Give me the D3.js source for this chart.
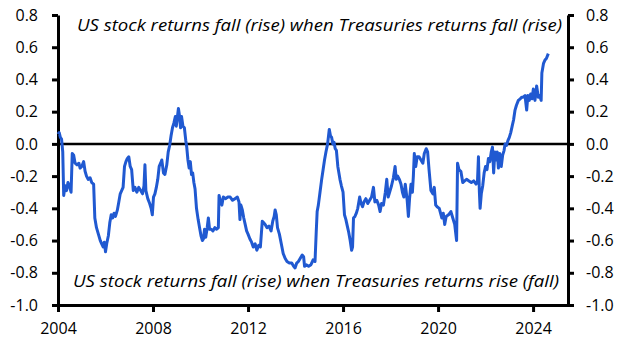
<!DOCTYPE html>
<html>
<head>
<meta charset="utf-8">
<script src="https://cdn.jsdelivr.net/npm/d3@7"></script>
<style>
  body { margin: 0; background: #fff; }
  svg text { font-family: "Open Sans", "Noto Sans", sans-serif; fill: #000; }
  .tick text { font-size: 16px; }
  .note { font-style: italic; font-size: 16px; }
</style>
</head>
<body>
<div id="chart"></div>
<script>
// decimal year of each observation
var dates = [
  2004.00, 2004.05, 2004.10, 2004.15, 2004.20, 2004.24, 2004.30, 2004.36, 2004.42, 2004.48,
  2004.55, 2004.60, 2004.66, 2004.72, 2004.80, 2004.88, 2004.93, 2005.00, 2005.08, 2005.14,
  2005.20, 2005.27, 2005.35, 2005.42, 2005.50, 2005.55, 2005.62, 2005.70, 2005.78, 2005.84,
  2005.90, 2005.95, 2006.00, 2006.05, 2006.12, 2006.18, 2006.24, 2006.30, 2006.36, 2006.42,
  2006.50, 2006.56, 2006.62, 2006.68, 2006.74, 2006.80, 2006.86, 2006.92, 2006.98, 2007.04,
  2007.10, 2007.17, 2007.24, 2007.32, 2007.40, 2007.48, 2007.56, 2007.62, 2007.66, 2007.70,
  2007.78, 2007.86, 2007.92, 2007.97, 2008.02, 2008.08, 2008.14, 2008.20, 2008.26, 2008.32,
  2008.37, 2008.44, 2008.50, 2008.58, 2008.64, 2008.70, 2008.76, 2008.82, 2008.88, 2008.94,
  2008.98, 2009.02, 2009.07, 2009.11, 2009.16, 2009.20, 2009.26, 2009.32, 2009.38, 2009.42,
  2009.47, 2009.52, 2009.57, 2009.62, 2009.67, 2009.72, 2009.77, 2009.83, 2009.90, 2009.96,
  2010.02, 2010.08, 2010.12, 2010.17, 2010.22, 2010.28, 2010.33, 2010.38, 2010.45, 2010.52,
  2010.60, 2010.68, 2010.75, 2010.78, 2010.83, 2010.90, 2010.96, 2011.05, 2011.15, 2011.25,
  2011.35, 2011.45, 2011.55, 2011.62, 2011.66, 2011.70, 2011.76, 2011.82, 2011.88, 2011.94,
  2012.00, 2012.08, 2012.15, 2012.22, 2012.30, 2012.37, 2012.45, 2012.52, 2012.60, 2012.66,
  2012.72, 2012.80, 2012.88, 2012.97, 2013.04, 2013.10, 2013.14, 2013.19, 2013.24, 2013.32,
  2013.40, 2013.48, 2013.56, 2013.64, 2013.74, 2013.84, 2013.92, 2013.98, 2014.05, 2014.12,
  2014.20, 2014.28, 2014.34, 2014.38, 2014.45, 2014.55, 2014.65, 2014.74, 2014.82, 2014.87,
  2014.91, 2014.96, 2015.03, 2015.10, 2015.16, 2015.22, 2015.28, 2015.35, 2015.42, 2015.47,
  2015.52, 2015.57, 2015.62, 2015.67, 2015.72, 2015.78, 2015.87, 2015.93, 2016.00, 2016.06,
  2016.12, 2016.18, 2016.24, 2016.30, 2016.36, 2016.40, 2016.44, 2016.50, 2016.56, 2016.62,
  2016.70, 2016.76, 2016.82, 2016.88, 2016.96, 2017.04, 2017.12, 2017.20, 2017.28, 2017.34,
  2017.42, 2017.50, 2017.56, 2017.62, 2017.70, 2017.78, 2017.84, 2017.90, 2017.96, 2018.04,
  2018.12, 2018.19, 2018.24, 2018.30, 2018.37, 2018.44, 2018.50, 2018.56, 2018.62, 2018.70,
  2018.75, 2018.80, 2018.86, 2018.92, 2018.96, 2019.00, 2019.06, 2019.12, 2019.20, 2019.28,
  2019.36, 2019.42, 2019.50, 2019.56, 2019.62, 2019.70, 2019.78, 2019.84, 2019.90, 2019.96,
  2020.05, 2020.16, 2020.22, 2020.28, 2020.34, 2020.44, 2020.54, 2020.62, 2020.70, 2020.78,
  2020.82, 2020.88, 2020.96, 2021.04, 2021.12, 2021.20, 2021.30, 2021.40, 2021.50, 2021.60,
  2021.66, 2021.70, 2021.74, 2021.77, 2021.82, 2021.88, 2021.94, 2022.00, 2022.06, 2022.12,
  2022.18, 2022.24, 2022.29, 2022.34, 2022.39, 2022.44, 2022.49, 2022.54, 2022.60, 2022.66,
  2022.72, 2022.78, 2022.82, 2022.88, 2022.94, 2023.00, 2023.06, 2023.12, 2023.18, 2023.24,
  2023.30, 2023.38, 2023.46, 2023.52, 2023.58, 2023.66, 2023.73, 2023.78, 2023.84, 2023.90,
  2023.96, 2024.01, 2024.08, 2024.15, 2024.22, 2024.28, 2024.34, 2024.37, 2024.44, 2024.50,
  2024.56, 2024.64
];

// correlation of US stock and Treasury returns
var corr = [
   0.06,  0.07,  0.04,  0.03, -0.05, -0.32, -0.26, -0.29, -0.24, -0.26,
  -0.30, -0.06, -0.07, -0.12, -0.13, -0.12, -0.15, -0.14, -0.11, -0.17,
  -0.20, -0.22, -0.21, -0.24, -0.25, -0.46, -0.52, -0.56, -0.60, -0.62,
  -0.64, -0.61, -0.67, -0.62, -0.57, -0.49, -0.44, -0.46, -0.43, -0.45,
  -0.41, -0.36, -0.31, -0.29, -0.27, -0.14, -0.11, -0.09, -0.08, -0.14,
  -0.16, -0.29, -0.27, -0.30, -0.27, -0.29, -0.31, -0.26, -0.13, -0.29,
  -0.34, -0.37, -0.40, -0.44, -0.33, -0.31, -0.27, -0.22, -0.14, -0.12,
  -0.10, -0.18, -0.19, -0.13, -0.05, -0.01,  0.05,  0.10,  0.13,  0.17,
   0.11,  0.16,  0.22,  0.18,  0.10,  0.17,  0.11,  0.10,  0.02, -0.02,
  -0.10, -0.15, -0.11, -0.19, -0.18, -0.24, -0.28, -0.40, -0.47, -0.52,
  -0.57, -0.60, -0.59, -0.53, -0.58, -0.52, -0.46, -0.53, -0.53, -0.54,
  -0.52, -0.53, -0.52, -0.32, -0.35, -0.38, -0.33, -0.34, -0.33, -0.33,
  -0.35, -0.34, -0.33, -0.36, -0.47, -0.38, -0.41, -0.46, -0.50, -0.54,
  -0.56, -0.59, -0.61, -0.64, -0.62, -0.66, -0.63, -0.64, -0.48, -0.49,
  -0.50, -0.52, -0.51, -0.54, -0.48, -0.45, -0.41, -0.44, -0.52, -0.56,
  -0.62, -0.68, -0.71, -0.73, -0.74, -0.74, -0.76, -0.77, -0.74, -0.73,
  -0.71, -0.69, -0.70, -0.76, -0.75, -0.76, -0.75, -0.72, -0.73, -0.55,
  -0.42, -0.38, -0.30, -0.22, -0.16, -0.10, -0.05,  0.00,  0.09,  0.05,
   0.04,  0.00,  0.01, -0.03, -0.04, -0.14, -0.22, -0.26, -0.30, -0.44,
  -0.47, -0.51, -0.55, -0.60, -0.66, -0.64, -0.46, -0.45, -0.43, -0.40,
  -0.33, -0.37, -0.39, -0.36, -0.34, -0.37, -0.35, -0.33, -0.27, -0.36,
  -0.35, -0.38, -0.42, -0.37, -0.38, -0.30, -0.22, -0.33, -0.30, -0.26,
  -0.21, -0.14, -0.22, -0.20, -0.22, -0.25, -0.30, -0.33, -0.25, -0.35,
  -0.45, -0.34, -0.25, -0.30, -0.20, -0.06, -0.14, -0.08, -0.08, -0.10,
  -0.12, -0.06, -0.03, -0.05, -0.16, -0.29, -0.31, -0.27, -0.38, -0.39,
  -0.40, -0.46, -0.43, -0.50, -0.45, -0.44, -0.42, -0.46, -0.50, -0.60,
  -0.12, -0.16, -0.17, -0.24, -0.23, -0.22, -0.23, -0.24, -0.23, -0.25,
  -0.23, -0.08, -0.30, -0.40, -0.31, -0.26, -0.18, -0.14, -0.16, -0.09,
  -0.11, -0.05, -0.02, -0.18, -0.05, -0.10, -0.05, -0.15, -0.06, -0.14,
  -0.07, -0.04,  0.00, -0.01,  0.02,  0.04,  0.07,  0.11,  0.15,  0.21,
   0.24,  0.27,  0.28,  0.29,  0.29,  0.30,  0.21,  0.30,  0.27,  0.31,
   0.28,  0.34,  0.27,  0.36,  0.29,  0.30,  0.27,  0.44,  0.50,  0.52,
   0.53,  0.56
];

var yTicks = [-1.0, -0.8, -0.6, -0.4, -0.2, 0.0, 0.2, 0.4, 0.6, 0.8];
var xTicks = [2004, 2008, 2012, 2016, 2020, 2024];
var topNote = "US stock returns fall (rise) when Treasuries returns fall (rise)";
var bottomNote = "US stock returns fall (rise) when Treasuries returns rise (fall)";

let width = 630, height = 354;
let plotLeft = 58, plotRight = 568, plotTop = 15, plotBottom = 305;

let svg = d3.select('#chart').append('svg')
  .attr('width', width)
  .attr('height', height);

let xScale = d3.scaleLinear().domain([2004, 2025.47]).range([plotLeft, plotRight]);
let yScale = d3.scaleLinear().domain([-1, 0.8]).range([plotBottom, plotTop]);

let fmt = d3.format('.1f');
let yFmt = (d)=> fmt(d).replace('\u2212', '-');

// axes
let xAxis = d3.axisBottom(xScale).tickValues(xTicks).tickFormat(d3.format('d'))
  .tickSize(7).tickSizeOuter(0).tickPadding(11);
let yLeft = d3.axisLeft(yScale).tickValues(yTicks).tickFormat(yFmt)
  .tickSize(6).tickSizeOuter(0).tickPadding(14);
let yRight = d3.axisRight(yScale).tickValues(yTicks).tickFormat(yFmt)
  .tickSize(6).tickSizeOuter(0).tickPadding(12);

let gx = svg.append('g').attr('transform', `translate(0, ${plotBottom})`).call(xAxis);
let gl = svg.append('g').attr('transform', `translate(${plotLeft}, 0)`).call(yLeft);
let gr = svg.append('g').attr('transform', `translate(${plotRight}, 0)`).call(yRight);

[gx, gl, gr].forEach((g)=> {
  g.select('.domain').attr('stroke', '#000').attr('stroke-width', 3);
  g.selectAll('.tick line').attr('stroke', '#000').attr('stroke-width', 3);
  g.selectAll('.tick text').attr('fill', '#000').style('font-size', '16px');
});

// zero line
svg.append('line')
  .attr('x1', plotLeft).attr('x2', plotRight)
  .attr('y1', yScale(0)).attr('y2', yScale(0))
  .attr('stroke', '#000').attr('stroke-width', 2.5);

// series
let points = dates.map((d, i)=> [d, corr[i]]);
let line = d3.line()
  .x((d)=> xScale(d[0]))
  .y((d)=> yScale(d[1]));

svg.append('path')
  .datum(points)
  .attr('fill', 'none')
  .attr('stroke', '#2059d1')
  .attr('stroke-width', 3)
  .attr('stroke-linejoin', 'round')
  .attr('d', line);

// annotations
svg.append('text').attr('class', 'note')
  .attr('x', 77).attr('y', 31)
  .attr('textLength', 485).attr('lengthAdjust', 'spacingAndGlyphs')
  .text(topNote);
svg.append('text').attr('class', 'note')
  .attr('x', 73).attr('y', 287)
  .attr('textLength', 486).attr('lengthAdjust', 'spacingAndGlyphs')
  .text(bottomNote);
</script>
</body>
</html>
